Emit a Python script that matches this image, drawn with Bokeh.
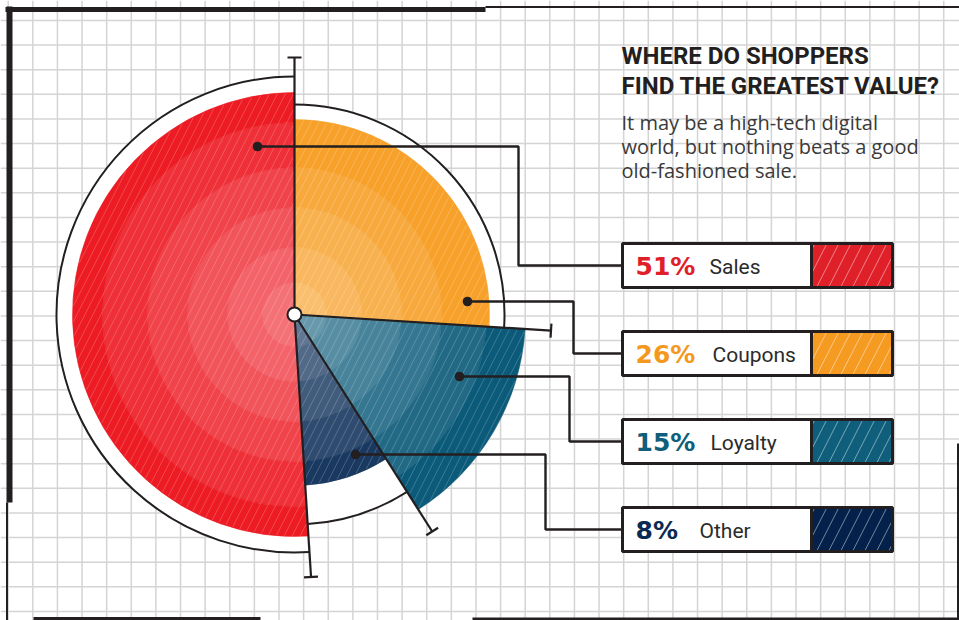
import numpy as np
from bokeh.plotting import figure
from bokeh.models import Range1d
from bokeh.core.properties import value
from bokeh.embed import file_html
from bokeh.resources import INLINE

# ---- data ----
categories = ["Sales", "Coupons", "Loyalty", "Other"]
shares = [51, 26, 15, 8]
title_lines = ["WHERE DO SHOPPERS", "FIND THE GREATEST VALUE?"]
subtitle_lines = ["It may be a high-tech digital",
                  "world, but nothing beats a good",
                  "old-fashioned sale."]
# slices are laid out clockwise from 12 o'clock in this order
slice_order = ["Coupons", "Loyalty", "Other", "Sales"]

# ---- styling / layout (pixel space, y measured downward) ----
W, H = 959, 620
CX, CY = 294, 314
INK = "#231f20"
slice_radius = {"Sales": 222, "Coupons": 195, "Loyalty": 231, "Other": 171}
backing_radius = {"Sales": 238, "Coupons": 210, "Loyalty": 231, "Other": 210}
has_arc = {"Sales": True, "Coupons": True, "Loyalty": False, "Other": True}
base_color = {"Sales": "#ED1C24", "Coupons": "#F7A12B",
              "Loyalty": "#0B5A79", "Other": "#1A3961"}
swatch_color = {"Sales": "#DF2029", "Coupons": "#F59B22",
                "Loyalty": "#0F5E7C", "Other": "#03214A"}
text_color = {"Sales": "#DF2029", "Coupons": "#F39A1E",
              "Loyalty": "#0F5E7C", "Other": "#0B2A52"}
ring_edges = [0, 32, 67, 107, 147, 192]
spoke_len = [257, 257, 257, 263]
dot_pos = {"Sales": (257, 146), "Coupons": (467, 301),
           "Loyalty": (459, 376), "Other": (355, 454)}
bend_x = {"Sales": 518, "Coupons": 573, "Loyalty": 569, "Other": 545}
box_cy = {"Sales": 265, "Coupons": 353, "Loyalty": 441, "Other": 529}
label_x = {"Sales": 709, "Coupons": 712, "Loyalty": 710, "Other": 699}
BOX_L, BOX_M, BOX_R, BOX_H = 622, 811, 892, 44
TEXT_LIFT = 9  # svg text sits a little below the requested baseline


def Y(py):
    return H - py


def blend(hexc, t):
    c = [int(hexc[i:i + 2], 16) for i in (1, 3, 5)]
    c = [round(v + (255 - v) * t) for v in c]
    return "#%02x%02x%02x" % tuple(c)


def polar(cw_deg, r):
    a = np.radians(cw_deg)
    return CX + r * np.sin(a), CY - r * np.cos(a)


# clockwise angular extents
total = sum(shares)
share_of = dict(zip(categories, shares))
extent = {}
acc = 0.0
for name in slice_order:
    span = 360.0 * share_of[name] / total
    extent[name] = (acc, acc + span)
    acc += span


def math_angles(a0, a1):
    # clockwise-from-top degrees -> anticlockwise math radians
    return np.radians(90 - a1), np.radians(90 - a0)


p = figure(width=W, height=H, x_range=Range1d(0, W), y_range=Range1d(0, H),
           x_axis_location=None, y_axis_location=None, toolbar_location=None,
           output_backend="svg", min_border=0, outline_line_color=None,
           background_fill_color="white", border_fill_color="white")
p.grid.visible = False

# ---- graph paper ----
step = 24.62
gx = np.arange(32.3 - step, W + 1, step)
gy = np.arange(20.0, H + 1, step)
p.multi_line(xs=[[x, x] for x in gx], ys=[[0, H] for _ in gx],
             line_color="#d4d4d4", line_width=1.5)
p.multi_line(xs=[[0, W] for _ in gy], ys=[[Y(y), Y(y)] for y in gy],
             line_color="#d4d4d4", line_width=1.5)

# ---- page frame ----
frame = [((5, 9), (485, 9), 5), ((485, 6.5), (959, 6.5), 2),
         ((9, 6), (9, 502), 6), ((6.5, 502), (6.5, 620), 2),
         ((33, 619), (260, 619), 5), ((472, 618.5), (959, 618.5), 3),
         ((957.5, 443), (957.5, 620), 2)]
for (x0, y0), (x1, y1), w in frame:
    p.line([x0, x1], [Y(y0), Y(y1)], line_color=INK, line_width=w)

# ---- white backing behind each slice ----
for name in slice_order:
    s, e = math_angles(*extent[name])
    p.wedge(x=CX, y=Y(CY), radius=backing_radius[name], start_angle=s,
            end_angle=e, direction="anticlock", fill_color="white", line_color=None)

# ---- slices with concentric shading ----
for name in slice_order:
    R = slice_radius[name]
    edges = [e for e in ring_edges if e < R - 6] + [R]
    s, e = math_angles(*extent[name])
    nb = len(edges) - 1
    for i in range(nb):
        k = nb - 1 - i  # 0 for outermost band
        col = blend(base_color[name], 1 - (1 - 0.09) ** k)
        p.annular_wedge(x=CX, y=Y(CY), inner_radius=edges[i], outer_radius=edges[i + 1],
                        start_angle=s, end_angle=e, direction="anticlock",
                        fill_color=col, line_color=col, line_width=0.6)


# ---- diagonal hatch ----
def hatch(inside, xmin, xmax, ymin, ymax, spacing, ang=63.0):
    th = np.radians(ang)
    dx, dy = np.cos(th), -np.sin(th)
    L = (ymax - ymin) / np.sin(th) + 4
    t = np.arange(0, L, 0.4)
    xs_out, ys_out = [], []
    shift = (ymax - ymin) / np.tan(th)
    start = np.floor((xmin - shift) / spacing) * spacing - spacing
    for x0 in np.arange(start, xmax + spacing, spacing):
        xs = x0 + t * dx
        ys = ymax + t * dy
        m = inside(xs, ys)
        if not m.any():
            continue
        d = np.diff(m.astype(int))
        st = list(np.where(d == 1)[0] + 1)
        en = list(np.where(d == -1)[0])
        if m[0]:
            st = [0] + st
        if m[-1]:
            en = en + [len(m) - 1]
        for a, b in zip(st, en):
            if b > a:
                xs_out.append([xs[a], xs[b]])
                ys_out.append([Y(ys[a]), Y(ys[b])])
    return xs_out, ys_out


def in_slice(name):
    a0, a1 = extent[name]
    R = slice_radius[name]

    def f(xs, ys):
        rx, ry = xs - CX, CY - ys
        r = np.hypot(rx, ry)
        cw = (90 - np.degrees(np.arctan2(ry, rx))) % 360
        return (r <= R - 0.6) & (cw >= a0 + 0.3) & (cw < a1 - 0.3)
    return f


hx, hy = [], []
for name in slice_order:
    a, b = hatch(in_slice(name), CX - 260, CX + 260, CY - 260, CY + 260, 8.0)
    hx += a
    hy += b
p.multi_line(xs=hx, ys=hy, line_color="white", line_alpha=0.2, line_width=1)

# ---- outer arcs ----
for name in slice_order:
    if has_arc[name]:
        s, e = math_angles(*extent[name])
        p.arc(x=CX, y=Y(CY), radius=backing_radius[name], start_angle=s, end_angle=e,
              direction="anticlock", line_color=INK, line_width=2)

# ---- spokes with end caps ----
bounds = [extent[n][0] for n in slice_order]
for ang, ln in zip(bounds, spoke_len):
    ex, ey = polar(ang, ln)
    p.line([CX, ex], [Y(CY), Y(ey)], line_color=INK, line_width=2.2)
    a = np.radians(ang)
    ux, uy = np.cos(a), np.sin(a)  # perpendicular in pixel space
    p.line([ex - 7 * ux, ex + 7 * ux], [Y(ey - 7 * uy), Y(ey + 7 * uy)],
           line_color=INK, line_width=2.2)

# ---- leader lines ----
for name in categories:
    dx_, dy_ = dot_pos[name]
    bx = bend_x[name]
    by = box_cy[name]
    p.line([dx_, bx, bx, BOX_L], [Y(dy_), Y(dy_), Y(by), Y(by)],
           line_color=INK, line_width=2.4)
p.circle(x=[dot_pos[n][0] for n in categories], y=[Y(dot_pos[n][1]) for n in categories],
         radius=4.8, fill_color=INK, line_color=None)

# center hub
p.circle(x=[CX], y=[Y(CY)], radius=7, fill_color="white", line_color=INK, line_width=2)

# ---- legend boxes ----
for name in categories:
    cy = box_cy[name]
    top, bot = Y(cy - BOX_H / 2), Y(cy + BOX_H / 2)
    p.quad(left=BOX_L, right=BOX_M, top=top, bottom=bot, fill_color="white", line_color=None)
    p.quad(left=BOX_M, right=BOX_R, top=top, bottom=bot,
           fill_color=swatch_color[name], line_color=None)

    def in_rect(xs, ys, cy=cy):
        return ((xs >= BOX_M + 1) & (xs <= BOX_R - 1) &
                (ys >= cy - BOX_H / 2 + 1) & (ys <= cy + BOX_H / 2 - 1))
    a, b = hatch(in_rect, BOX_M, BOX_R, cy - BOX_H / 2, cy + BOX_H / 2, 12.0)
    p.multi_line(xs=a, ys=b, line_color="white", line_alpha=0.45, line_width=1)
    p.quad(left=BOX_L, right=BOX_R, top=top, bottom=bot, fill_color=None,
           line_color=INK, line_width=3)
    p.line([BOX_M, BOX_M], [top, bot], line_color=INK, line_width=3)

p.text(x=[BOX_L + 13] * 4, y=[Y(box_cy[n] + 10 - TEXT_LIFT) for n in categories],
       text=[f"{share_of[n]}%" for n in categories],
       text_color=[text_color[n] for n in categories],
       text_font=value("DejaVu Sans"), text_font_style="bold", text_font_size="25px",
       text_baseline="alphabetic", text_align="left")
p.text(x=[label_x[n] for n in categories], y=[Y(box_cy[n] + 10 - TEXT_LIFT) for n in categories],
       text=categories, text_color="#2b2b2b",
       text_font=value("Roboto"), text_font_size="21px",
       text_baseline="alphabetic", text_align="left")

# ---- heading ----
p.text(x=[621, 621], y=[Y(65 - 10), Y(95 - 10)], text=title_lines, text_color=INK,
       text_font=value("Roboto"), text_font_style="bold", text_font_size="24px",
       text_baseline="alphabetic", text_align="left")
p.text(x=[621] * 3, y=[Y(130 - 8.5), Y(154 - 8.5), Y(178 - 8.5)], text=subtitle_lines,
       text_color="#3a3a3a", text_font=value("Open Sans"), text_font_size="20px",
       text_baseline="alphabetic", text_align="left")

open("out.html", "w").write(file_html(p, INLINE))
